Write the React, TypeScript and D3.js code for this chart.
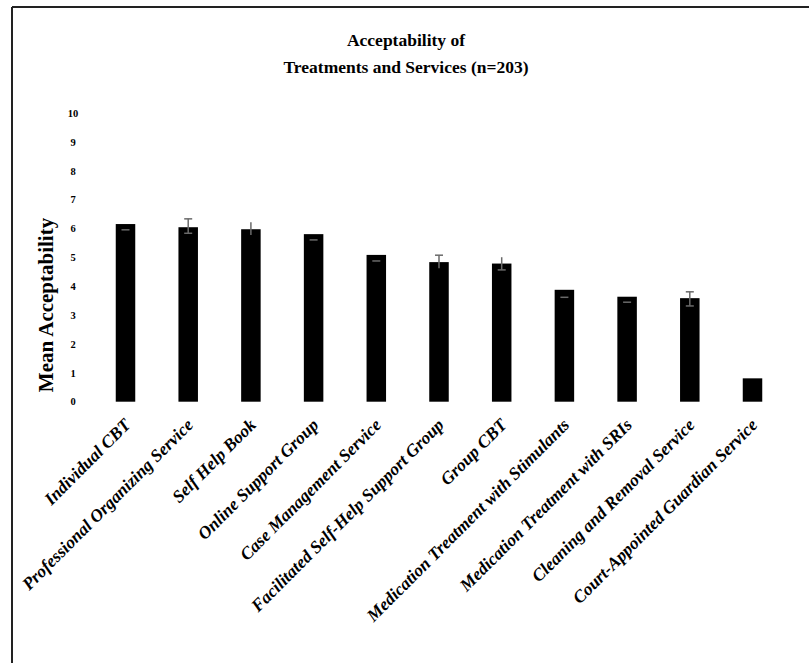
import React from "react";
import * as d3 from "d3";

const categories = [
  "Individual CBT",
  "Professional Organizing Service",
  "Self Help Book",
  "Online Support Group",
  "Case Management Service",
  "Facilitated Self-Help Support Group",
  "Group CBT",
  "Medication Treatment with Stimulants",
  "Medication Treatment with SRIs",
  "Cleaning and Removal Service",
  "Court-Appointed Guardian Service",
];
const means = [6.16, 6.05, 5.98, 5.81, 5.09, 4.84, 4.79, 3.88, 3.64, 3.59, 0.81];
const errHigh = [5.96, 6.34, 6.22, 5.61, 4.88, 5.08, 5.01, 3.62, 3.45, 3.81, null];
const errLow = [5.96, 5.84, 5.78, 5.61, 4.88, 4.63, 4.57, 3.62, 3.45, 3.32, null];
const capTop = [true, true, false, true, true, true, false, true, true, true, false];
const capBottom = [false, true, false, false, false, false, true, false, false, true, false];
const yTicks = [0, 1, 2, 3, 4, 5, 6, 7, 8, 9, 10];
const titleLines = ["Acceptability of", "Treatments and Services (n=203)"];
const yTitle = "Mean Acceptability";

const W = 809;
const H = 663;

export default function App() {
  const x = d3.scalePoint<string>().domain(categories).range([125.5, 752.5]);
  const y = d3.scaleLinear().domain([0, 10]).range([401.7, 113.3]);
  const barW = 19.5;
  const capW = 8;
  const serif = "'Liberation Serif', 'Times New Roman', serif";
  const errColor = "#6a6a6a";

  return (
    <svg
      width={W}
      height={H}
      style={{ position: "absolute", left: 0, top: 0, background: "#fff" }}
      fontFamily={serif}
    >
      {/* frame */}
      <line x1={12} y1={7} x2={W} y2={7} stroke="#222" strokeWidth={2} />
      <line x1={12} y1={7} x2={12} y2={H} stroke="#222" strokeWidth={2} />

      {/* title */}
      {titleLines.map((t, i) => (
        <text
          key={i}
          x={406}
          y={46 + i * 27}
          textAnchor="middle"
          fontWeight="bold"
          fontSize={17.5}
        >
          {t}
        </text>
      ))}

      {/* y tick labels */}
      {yTicks.map((t) => (
        <text
          key={t}
          x={73}
          y={y(t)}
          dy="0.35em"
          textAnchor="middle"
          fontWeight="bold"
          fontSize={10.5}
        >
          {t}
        </text>
      ))}

      {/* y title */}
      <text
        transform={`translate(53, ${305}) rotate(-90)`}
        textAnchor="middle"
        fontWeight="bold"
        fontSize={21}
      >
        {yTitle}
      </text>

      {/* bars */}
      {categories.map((c, i) => (
        <rect
          key={c}
          x={(x(c) as number) - barW / 2}
          y={y(means[i])}
          width={barW}
          height={y(0) - y(means[i])}
          fill="#000"
        />
      ))}

      {/* error bars */}
      {categories.map((c, i) => {
        const hi = errHigh[i];
        const lo = errLow[i];
        if (hi == null || lo == null) return null;
        const cx = x(c) as number;
        const yh = y(hi);
        const yl = y(lo);
        return (
          <g key={c} stroke={errColor} strokeWidth={1.5}>
            {hi !== lo && <line x1={cx} x2={cx} y1={yh} y2={yl} />}
            {(capTop[i] || hi === lo) && (
              <line x1={cx - capW / 2} x2={cx + capW / 2} y1={yh} y2={yh} />
            )}
            {capBottom[i] && hi !== lo && (
              <line x1={cx - capW / 2} x2={cx + capW / 2} y1={yl} y2={yl} />
            )}
          </g>
        );
      })}

      {/* x labels */}
      {categories.map((c) => (
        <text
          key={c}
          transform={`translate(${(x(c) as number) + 6}, ${426}) rotate(-45)`}
          textAnchor="end"
          fontWeight="bold"
          fontStyle="italic"
          fontSize={17.5}
        >
          {c}
        </text>
      ))}
    </svg>
  );
}
